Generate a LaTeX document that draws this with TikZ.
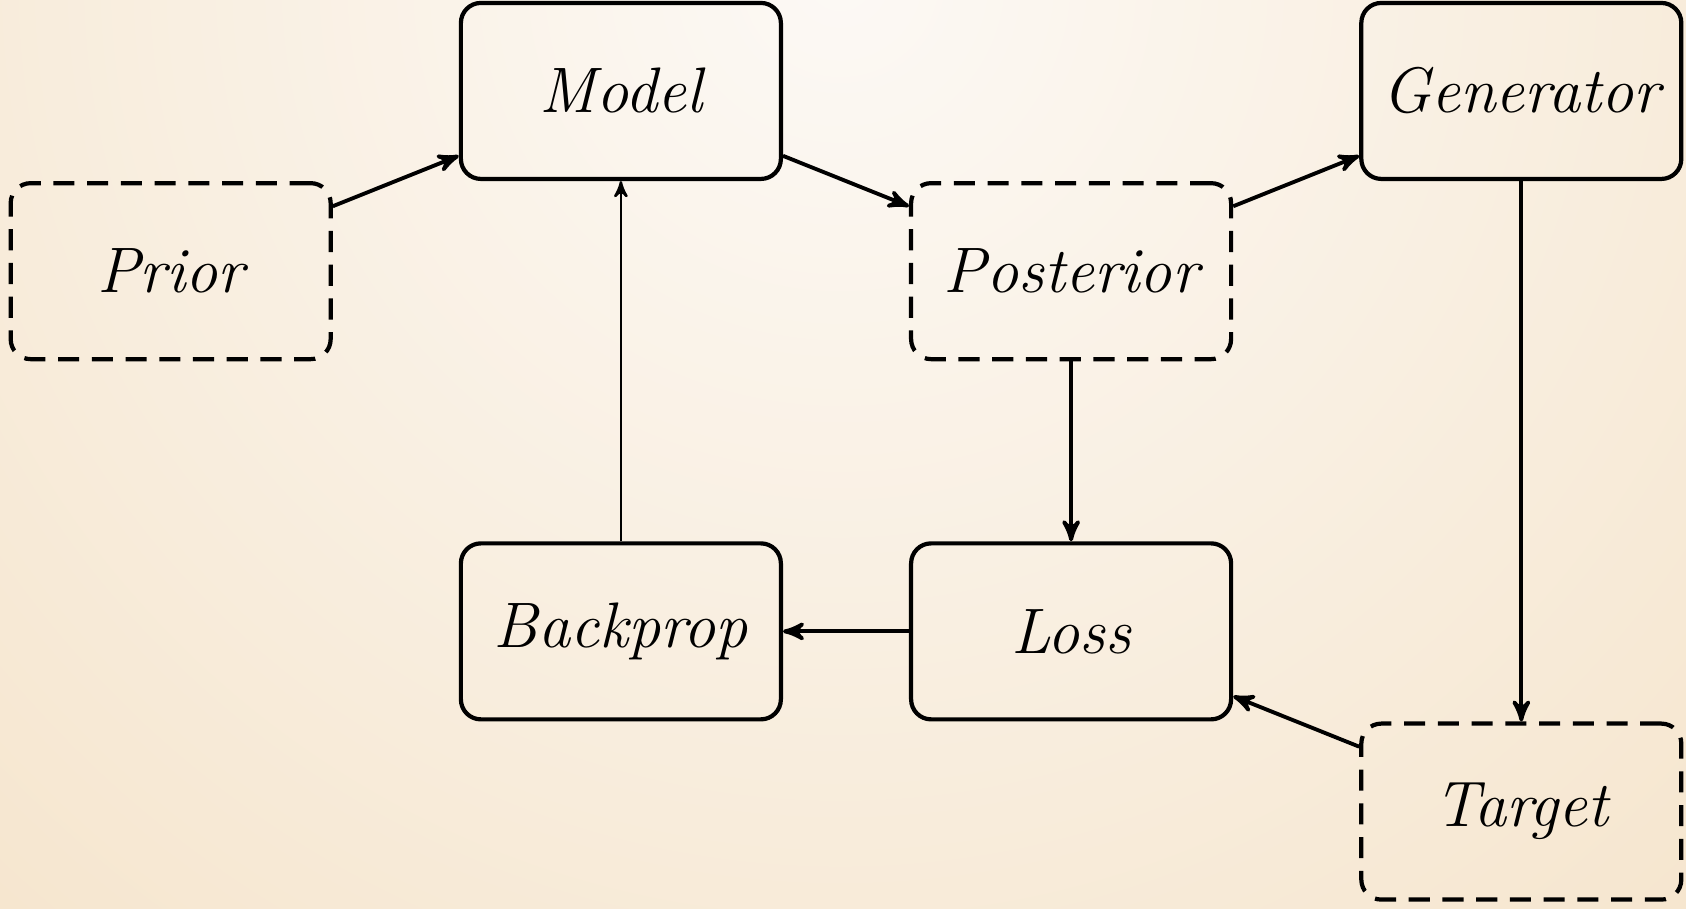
\documentclass[tikz,border=0pt]{standalone}
\usetikzlibrary{matrix, arrows}
\definecolor{bgin}{HTML}{FCF9F5}
\definecolor{bgout}{HTML}{F0D3A9}
\tikzset{
  stage/.style={draw, line width=1.2pt, rounded corners=0.2cm, inner sep=2pt, minimum width=3.2cm, minimum height=1.76cm, font=\fontsize{18.3}{22}\selectfont\itshape},
  latent/.style={stage, dash pattern=on 6pt off 3.6pt},
  flow/.style={->, >=stealth', line width=1.1pt}
}
\begin{document}
\begin{tikzpicture}
\useasboundingbox (0,0) rectangle (16.86,9.08);
\begin{scope}
\clip (0,0) rectangle (16.86,9.08);
\shade[inner color=bgin, outer color=bgout] (8.4,9.3) +(-25,-25) rectangle +(25,25);
\end{scope}
\matrix (m) [column sep=1.26cm, row sep=0cm] at (8.46,4.5675) {
  & \node[stage](model){Model}; & & \node[stage](gen){Generator}; \\
  \node[latent](prior){Prior}; & & \node[latent](post){Posterior}; & \\[1.8cm]
  & \node[stage](backprop){Backprop}; & \node[stage](loss){Loss}; & \\
  & & & \node[latent](target){Target}; \\
};
\draw[flow] (prior) -- (model);
\draw[flow] (model) -- (post);
\draw[flow] (post) -- (gen);
\draw[flow] (gen) -- (target);
\draw[flow] (target) -- (loss);
\draw[flow] (post) -- (loss);
\draw[flow] (loss) -- (backprop);
\draw[->, >=stealth', line width=0.7pt] (backprop) -- (model);
\end{tikzpicture}
\end{document}
